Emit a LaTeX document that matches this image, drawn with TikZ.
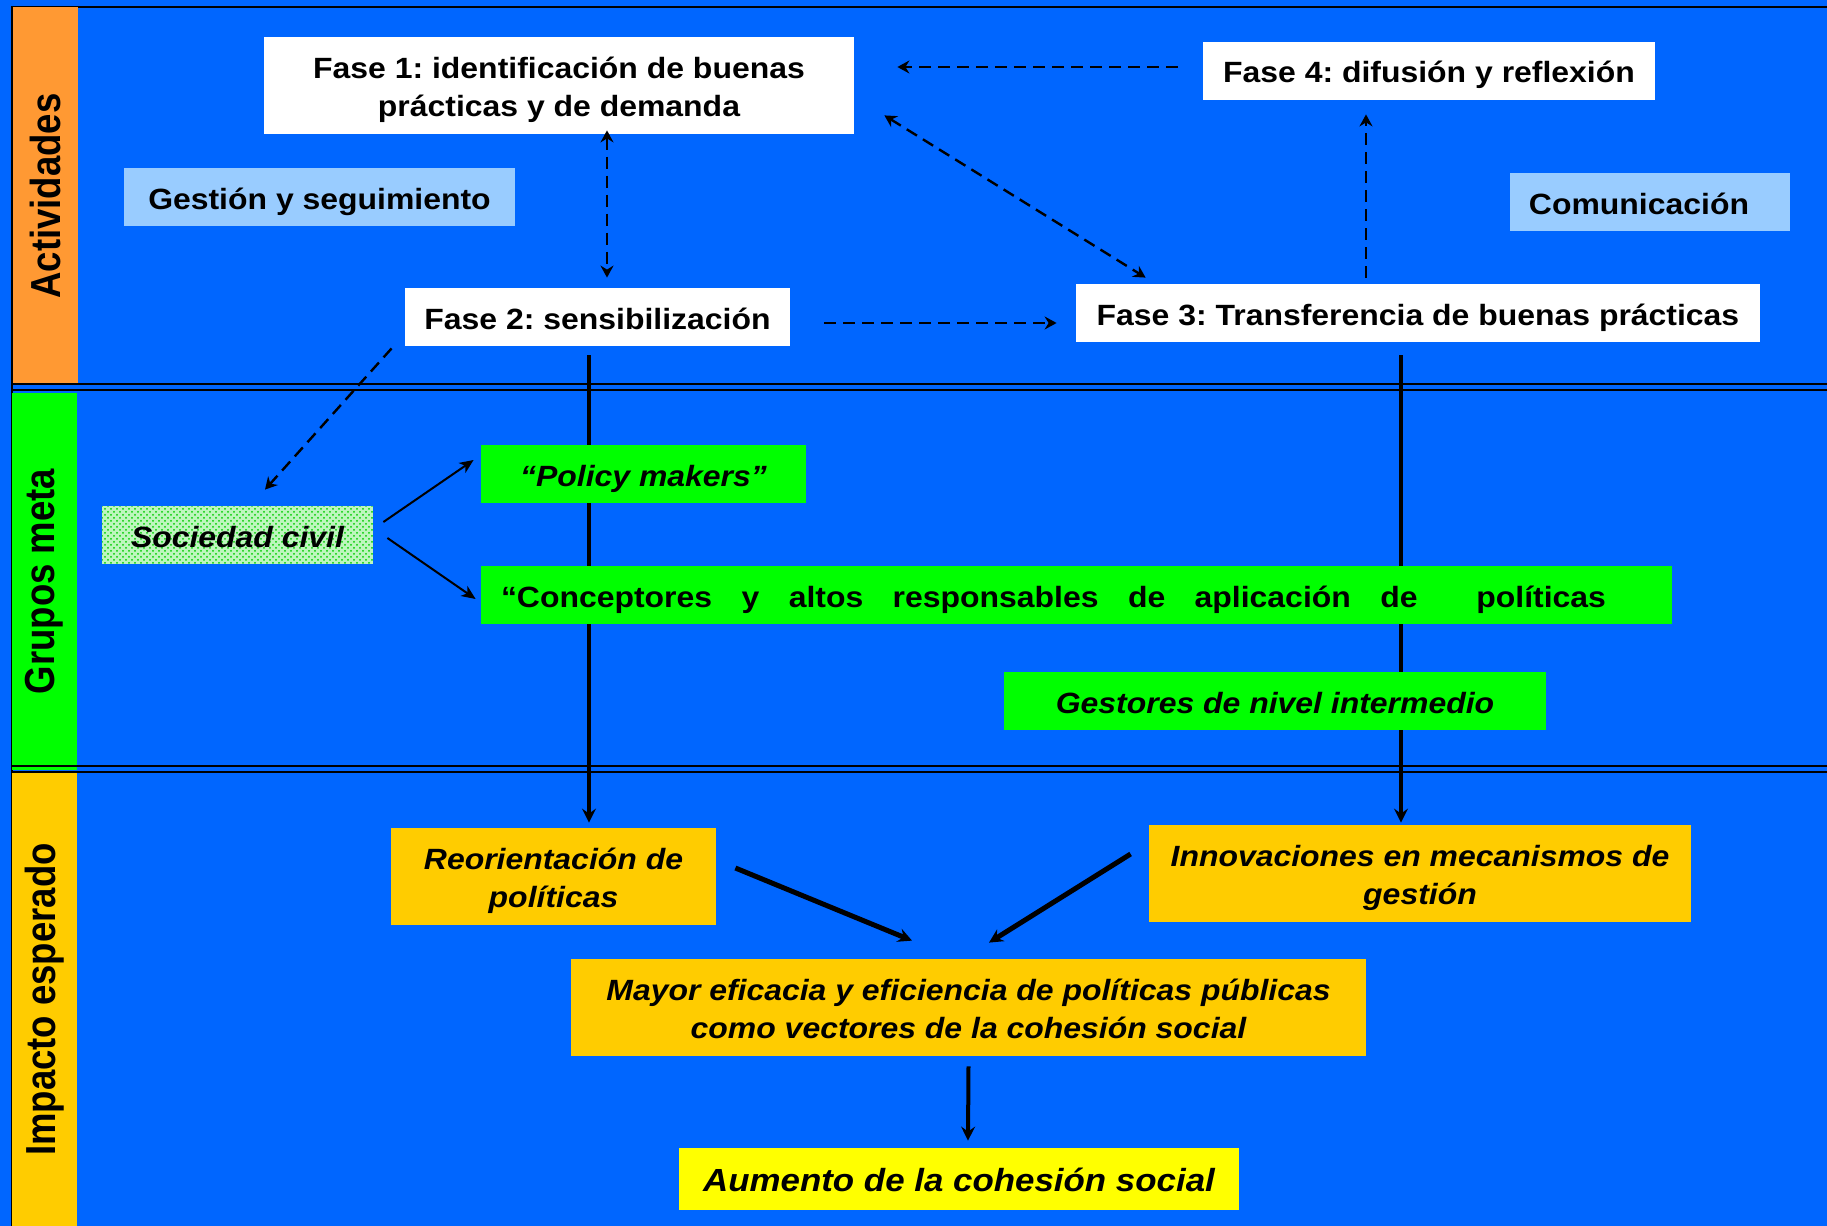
\documentclass[tikz,border=0pt]{standalone}
\usepackage{fontspec}
\setmainfont{Liberation Sans}[FakeStretch=1.09]
\newfontfamily\bandfont{Liberation Sans}[FakeStretch=0.87]
\usetikzlibrary{arrows.meta}
\usetikzlibrary{patterns}
\frenchspacing
\definecolor{azulfondo}{HTML}{0066FF}
\definecolor{naranja}{HTML}{FF9933}
\definecolor{verde}{HTML}{00FF00}
\definecolor{ambar}{HTML}{FFCC00}
\definecolor{celeste}{HTML}{99CCFF}
\definecolor{amarillo}{HTML}{FFFF00}
\definecolor{menta}{RGB}{190,246,190}
\pgfdeclarelayer{bg}
\pgfdeclarelayer{lineas}
\pgfsetlayers{bg,lineas,main}
\tikzset{
    caja/.style = {rectangle, inner sep=0pt, align=center, font=\fontsize{14.65}{19}\selectfont\bfseries},
    una/.style = {text height=12.5pt, text depth=0.5pt},
    dos/.style = {text height=31.5pt, text depth=0.5pt},
    fase/.style = {caja, fill=white},
    apoyo/.style = {caja, fill=celeste},
    grupo/.style = {caja, fill=verde, font=\fontsize{14.65}{19}\selectfont\bfseries\itshape},
    impacto/.style = {caja, fill=ambar, font=\fontsize{14.65}{19}\selectfont\bfseries\itshape},
    banda/.style = {rectangle, rotate=90, inner sep=0pt, font=\bandfont\fontsize{21}{24}\selectfont\bfseries},
    punta/.style = {-{Stealth[length=6pt,width=6.5pt,inset=2pt]}},
    punteada/.style = {line width=1.2pt, dash pattern=on 6pt off 3.5pt, punta},
    doble/.style = {line width=1.2pt, dash pattern=on 6pt off 3.5pt,
        {Stealth[length=6pt,width=6.5pt,inset=2pt]}-{Stealth[length=6pt,width=6.5pt,inset=2pt]}},
    flecha/.style = {line width=1pt, -{Stealth[length=7pt,width=6pt,inset=2pt]}},
    eje/.style = {line width=2.2pt, -{Stealth[length=7pt,width=7pt,inset=2.5pt]}},
    gruesa/.style = {line width=2.5pt, -{Stealth[length=7pt,width=7pt,inset=2.5pt]}},
    separa/.style = {line width=1.2pt}}

\begin{document}
\begin{tikzpicture}[x=0.5pt,y=-0.5pt]
        \useasboundingbox (0,0) rectangle (1827,1226);
        % bands
        \node[banda, fill=naranja, minimum width=189pt, minimum height=32.5pt] (actividades) at (45.5,196) {Actividades};
        \node[banda, fill=verde, minimum width=188.5pt, minimum height=32.5pt] (grupos) at (44.5,581.5) {Grupos meta};
        \node[banda, fill=ambar, minimum width=226.5pt, minimum height=32.5pt] (impactoesp) at (44.5,999.5) {Impacto esperado};
        \draw[separa] (12,384) -- (1827,384) (12,390) -- (1827,390);
        \draw[separa] (12,766) -- (1827,766) (12,772) -- (1827,772);
        % actividades
        \node[fase, dos, minimum width=295pt, minimum height=48.5pt] (f1) at (559,85.5) {Fase 1: identificación de buenas\\prácticas y de demanda};
        \node[fase, una, minimum width=226pt, minimum height=29pt] (f4) at (1429,71) {Fase 4: difusión y reflexión};
        \node[apoyo, una, minimum width=195.5pt, minimum height=29pt] (gestion) at (319.5,197) {Gestión y seguimiento};
        \node[apoyo, una, minimum width=140pt, minimum height=29pt] (comunic) at (1650,202) {Comunicación\hspace*{11pt}};
        \node[fase, una, minimum width=192.5pt, minimum height=29pt] (f2) at (597.5,317) {Fase 2: sensibilización};
        \node[fase, una, minimum width=342pt, minimum height=29pt] (f3) at (1418,313) {Fase 3: Transferencia de buenas prácticas};
        % grupos meta
        \node[grupo, una, fill=menta, postaction={pattern=crosshatch dots, pattern color=verde!80!black}, minimum width=135.5pt, minimum height=29pt] (soc) at (237.5,535) {Sociedad civil};
        \node[grupo, una, minimum width=162.5pt, minimum height=29pt] (pol) at (643.5,474) {“Policy makers”};
        \node[caja, una, fill=verde, minimum width=595.5pt, minimum height=29pt] (conc) at (1076.5,595)
            {\hbox to 575.5pt{“Conceptores\hfill y\hfill altos\hfill responsables\hfill de\hfill aplicación\hfill de\hfill\hfill políticas\kern23pt}};
        \node[grupo, una, minimum width=271pt, minimum height=29pt] (gestores) at (1275,701) {Gestores de nivel intermedio};
        % impacto
        \node[impacto, dos, minimum width=162.5pt, minimum height=48.5pt] (reor) at (553.5,876.5) {Reorientación de\\políticas};
        \node[impacto, dos, minimum width=271pt, minimum height=48.5pt] (innov) at (1420,873.5) {Innovaciones en mecanismos de\\gestión};
        \node[impacto, dos, minimum width=397.5pt, minimum height=48.5pt] (mayor) at (968.5,1007.5) {Mayor eficacia y eficiencia de políticas públicas\\como vectores de la cohesión social};
        \node[impacto, una, fill=amarillo, minimum width=280pt, minimum height=31pt, font=\fontsize{16}{19}\selectfont\bfseries\itshape] (aum) at (959,1179) {Aumento de la cohesión social};
        % connectors
        \draw[punteada] ([shift={(-25,-4)}]f4.west) -- ([shift={(43,-18.5)}]f1.east);
        \draw[doble] ([shift={(48,-4)}]f1.south) -- ([shift={(9.5,-10)}]f2.north);
        \draw[doble] ([shift={(30,-19)}]f1.south east) -- ([shift={(70,-6)}]f3.north west);
        \draw[punteada] ([shift={(34,6)}]f2.east) -- ([shift={(-19,10)}]f3.west);
        \draw[punteada] ([shift={(-52,-6)}]f3.north) -- ([shift={(-63,14)}]f4.south);
        \draw[punteada] ([shift={(-13,2)}]f2.south west) -- ([shift={(27.5,-16)}]soc.north);
        \draw[flecha] ([shift={(10,-13)}]soc.east) -- ([shift={(-7,-14)}]pol.west);
        \draw[flecha] ([shift={(14,3)}]soc.east) -- ([shift={(-5,4)}]conc.west);
        \draw[gruesa] ([shift={(19,-8.5)}]reor.east) -- ([shift={(-56.5,-18)}]mayor.north);
        \draw[gruesa] ([shift={(-18,-19.5)}]innov.west) -- ([shift={(20.5,-16)}]mayor.north);
        \draw[eje, line width=2pt] ([shift={(0,10)}]mayor.south) -- ([shift={(9,-7)}]aum.north);
        \begin{pgfonlayer}{lineas}
        \draw[eje] ([shift={(-8.5,9)}]f2.south) -- ([shift={(35.5,-5)}]reor.north);
        \draw[eje] ([shift={(-17,13)}]f3.south) -- ([shift={(-19,-2)}]innov.north);
        \end{pgfonlayer}
        \begin{pgfonlayer}{bg}
        \fill[azulfondo] (0,0) rectangle (1827,1226);
        \draw[line width=1.2pt] (12,1226) -- (12,7) -- (1827,7);
        \end{pgfonlayer}
\end{tikzpicture}
\end{document}
